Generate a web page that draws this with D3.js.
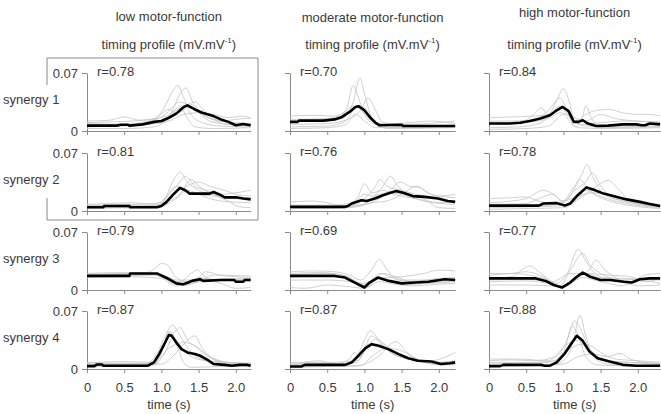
<!DOCTYPE html>
<html><head><meta charset="utf-8">
<script src="https://cdn.jsdelivr.net/npm/d3@7"></script>
<style>
html,body{margin:0;padding:0;background:#fff;}
text{font-family:"Liberation Sans",Arial,sans-serif;fill:#3a3a3a;}
</style></head>
<body><svg id="chart" width="661" height="414"></svg>
<script>
// ---------- labels ----------
const groups = ["low motor-function","moderate motor-function","high motor-function"];
const synergies = ["synergy 1","synergy 2","synergy 3","synergy 4"];
const xTicks = [0,0.5,1.0,1.5,2.0];
const xTickLabels = ["0","0.5","1.0","1.5","2.0"];
const yTicks = [0,0.07];
const yTickLabels = ["0","0.07"];
const tEnd = [2.2,2.22,2.3];
const rValues = [["0.78","0.81","0.79","0.87"],["0.70","0.76","0.69","0.87"],["0.84","0.78","0.77","0.88"]];

// ---------- mean profiles ([time s, mV/mV]) ----------
const low_s1_mean=[[0,0.0065],[0.4,0.0065],[0.45,0.0075],[0.55,0.0075],[0.57,0.0065],[0.75,0.008],[0.9,0.011],[1.0,0.012],[1.1,0.016],[1.2,0.021],[1.3,0.029],[1.35,0.031],[1.45,0.026],[1.55,0.022],[1.7,0.018],[1.8,0.014],[1.9,0.011],[2.0,0.007],[2.1,0.0085],[2.2,0.007]];
const low_s2_mean=[[0,0.0045],[0.22,0.0045],[0.23,0.006],[0.57,0.006],[0.58,0.0045],[0.94,0.0045],[1.0,0.006],[1.07,0.011],[1.16,0.02],[1.25,0.028],[1.32,0.025],[1.38,0.021],[1.5,0.021],[1.65,0.021],[1.7,0.023],[1.78,0.02],[1.85,0.0165],[2.0,0.0165],[2.1,0.015],[2.2,0.014]];
const low_s3_mean=[[0,0.017],[0.57,0.017],[0.58,0.02],[0.94,0.02],[1.07,0.0145],[1.2,0.008],[1.29,0.007],[1.36,0.009],[1.41,0.011],[1.52,0.013],[1.56,0.011],[1.8,0.012],[1.98,0.012],[2.0,0.01],[2.1,0.01],[2.12,0.012],[2.2,0.012]];
const low_s4_mean=[[0,0.0035],[0.1,0.0035],[0.13,0.0055],[0.2,0.0055],[0.22,0.004],[0.82,0.004],[0.9,0.008],[0.97,0.018],[1.05,0.032],[1.1,0.041],[1.14,0.04],[1.2,0.032],[1.27,0.024],[1.35,0.02],[1.45,0.018],[1.52,0.016],[1.62,0.011],[1.7,0.006],[1.85,0.005],[1.95,0.004],[2.05,0.005],[2.15,0.005],[2.2,0.004]];
const mod_s1_mean=[[0,0.011],[0.1,0.011],[0.12,0.0125],[0.45,0.0125],[0.6,0.014],[0.7,0.017],[0.8,0.023],[0.88,0.029],[0.92,0.030],[1.0,0.025],[1.08,0.016],[1.15,0.01],[1.2,0.007],[1.5,0.0075],[1.52,0.006],[2.22,0.006]];
const mod_s2_mean=[[0,0.005],[0.74,0.005],[0.78,0.006],[0.83,0.009],[0.96,0.013],[1.03,0.012],[1.14,0.015],[1.25,0.019],[1.35,0.022],[1.43,0.024],[1.52,0.022],[1.65,0.018],[1.81,0.017],[1.99,0.015],[2.12,0.012],[2.22,0.011]];
const mod_s3_mean=[[0,0.017],[0.6,0.017],[0.74,0.015],[0.87,0.009],[1.0,0.003],[1.07,0.009],[1.18,0.015],[1.33,0.011],[1.5,0.008],[1.68,0.009],[1.86,0.01],[2.08,0.013],[2.22,0.012]];
const mod_s4_mean=[[0,0.003],[0.15,0.003],[0.2,0.005],[0.74,0.005],[0.83,0.008],[0.92,0.016],[1.01,0.025],[1.1,0.03],[1.19,0.028],[1.32,0.024],[1.46,0.018],[1.59,0.013],[1.72,0.01],[1.9,0.009],[2.03,0.006],[2.15,0.007],[2.22,0.008]];
const high_s1_mean=[[0,0.009],[0.28,0.009],[0.42,0.01],[0.55,0.012],[0.69,0.015],[0.82,0.019],[0.91,0.025],[0.99,0.029],[1.07,0.024],[1.14,0.011],[1.2,0.011],[1.26,0.013],[1.33,0.009],[1.44,0.006],[1.6,0.0065],[1.8,0.008],[1.98,0.008],[2.05,0.007],[2.1,0.007],[2.16,0.009],[2.3,0.008]];
const high_s2_mean=[[0,0.0065],[0.67,0.0065],[0.73,0.009],[0.91,0.0095],[1.02,0.0065],[1.09,0.009],[1.18,0.018],[1.31,0.0285],[1.4,0.026],[1.54,0.021],[1.67,0.018],[1.85,0.014],[2.03,0.011],[2.16,0.0085],[2.3,0.006]];
const high_s3_mean=[[0,0.014],[0.63,0.014],[0.76,0.011],[0.87,0.006],[0.98,0.003],[1.09,0.009],[1.18,0.016],[1.26,0.021],[1.36,0.016],[1.5,0.012],[1.63,0.012],[1.81,0.01],[1.92,0.009],[2.03,0.013],[2.16,0.014],[2.3,0.014]];
const high_s4_mean=[[0,0.0035],[0.15,0.0035],[0.19,0.005],[0.7,0.005],[0.75,0.004],[0.82,0.004],[0.91,0.008],[1.02,0.019],[1.11,0.031],[1.18,0.04],[1.26,0.034],[1.35,0.021],[1.46,0.013],[1.62,0.009],[1.8,0.005],[1.98,0.004],[2.3,0.004]];

// ---------- individual profiles ----------
const low_s1_ind=[
[[0,0.010],[0.3,0.011],[0.6,0.012],[0.9,0.015],[1.05,0.03],[1.15,0.048],[1.22,0.055],[1.3,0.04],[1.4,0.02],[1.55,0.01],[1.8,0.006],[2.2,0.005]],
[[0,0.005],[0.4,0.006],[0.8,0.008],[1.0,0.01],[1.15,0.025],[1.25,0.045],[1.33,0.052],[1.42,0.035],[1.55,0.02],[1.7,0.014],[2.0,0.01],[2.2,0.009]],
[[0,0.012],[0.3,0.013],[0.5,0.017],[0.7,0.013],[1.0,0.016],[1.2,0.025],[1.35,0.032],[1.45,0.035],[1.6,0.022],[1.8,0.012],[2.0,0.014],[2.2,0.016]],
[[0,0.008],[0.5,0.008],[0.9,0.014],[1.1,0.026],[1.2,0.022],[1.3,0.025],[1.4,0.032],[1.5,0.022],[1.65,0.012],[1.9,0.008],[2.2,0.006]],
[[0,0.003],[0.5,0.003],[0.9,0.005],[1.1,0.015],[1.25,0.03],[1.35,0.015],[1.45,0.005],[1.7,0.003],[2.2,0.004]],
[[0,0.006],[0.5,0.007],[0.9,0.009],[1.1,0.012],[1.3,0.02],[1.5,0.022],[1.7,0.02],[1.9,0.016],[2.1,0.018],[2.2,0.015]],
[[0,0.009],[0.4,0.008],[0.8,0.01],[1.05,0.02],[1.25,0.035],[1.4,0.028],[1.6,0.018],[1.9,0.008],[2.2,0.008]]];
const low_s2_ind=[
[[0,0.003],[0.5,0.004],[0.9,0.004],[1.05,0.015],[1.18,0.04],[1.25,0.047],[1.35,0.035],[1.5,0.025],[1.7,0.02],[1.9,0.016],[2.2,0.014]],
[[0,0.008],[0.3,0.009],[0.6,0.01],[0.9,0.008],[1.1,0.02],[1.25,0.035],[1.32,0.042],[1.45,0.03],[1.6,0.025],[1.8,0.02],[2.0,0.022],[2.2,0.025]],
[[0,0.005],[0.4,0.006],[0.8,0.006],[1.1,0.012],[1.25,0.02],[1.4,0.038],[1.5,0.03],[1.7,0.02],[1.9,0.012],[2.05,0.005],[2.2,0.004]],
[[0,0.006],[0.5,0.007],[1.0,0.007],[1.15,0.02],[1.3,0.028],[1.5,0.035],[1.65,0.03],[1.85,0.025],[2.0,0.02],[2.2,0.018]],
[[0,0.004],[0.5,0.004],[1.0,0.006],[1.2,0.015],[1.35,0.025],[1.55,0.018],[1.8,0.012],[2.2,0.01]],
[[0,0.007],[0.6,0.008],[1.0,0.01],[1.2,0.03],[1.3,0.025],[1.5,0.02],[1.7,0.018],[2.0,0.015],[2.2,0.016]]];
const low_s3_ind=[
[[0,0.018],[0.5,0.019],[0.8,0.021],[0.9,0.025],[1.0,0.032],[1.08,0.03],[1.2,0.015],[1.35,0.01],[1.6,0.012],[2.2,0.014]],
[[0,0.016],[0.5,0.017],[0.9,0.018],[1.1,0.012],[1.25,0.01],[1.4,0.02],[1.48,0.024],[1.6,0.015],[1.8,0.012],[2.2,0.013]],
[[0,0.02],[0.5,0.021],[0.9,0.02],[1.1,0.015],[1.3,0.006],[1.5,0.01],[1.7,0.018],[2.0,0.016],[2.2,0.015]],
[[0,0.015],[0.6,0.016],[1.0,0.014],[1.2,0.005],[1.4,0.008],[1.6,0.011],[1.8,0.008],[2.0,0.002],[2.2,0.003]],
[[0,0.017],[0.5,0.018],[0.95,0.019],[1.15,0.008],[1.3,0.005],[1.5,0.015],[1.7,0.012],[2.2,0.011]],
[[0,0.019],[0.6,0.02],[1.0,0.018],[1.2,0.012],[1.45,0.012],[1.6,0.022],[1.8,0.018],[2.2,0.017]]];
const low_s4_ind=[
[[0,0.008],[0.4,0.007],[0.8,0.007],[0.95,0.02],[1.05,0.04],[1.15,0.053],[1.25,0.04],[1.4,0.02],[1.6,0.01],[2.0,0.006],[2.2,0.005]],
[[0,0.005],[0.5,0.006],[0.9,0.006],[1.05,0.02],[1.15,0.04],[1.25,0.05],[1.35,0.035],[1.5,0.025],[1.65,0.015],[1.9,0.008],[2.2,0.006]],
[[0,0.003],[0.5,0.004],[0.9,0.005],[1.0,0.02],[1.1,0.045],[1.2,0.03],[1.3,0.008],[1.4,0.002],[1.8,0.003],[2.2,0.004]],
[[0,0.006],[0.6,0.006],[0.9,0.008],[1.1,0.025],[1.3,0.032],[1.45,0.028],[1.55,0.02],[1.75,0.01],[2.2,0.006]],
[[0,0.004],[0.5,0.005],[1.0,0.006],[1.15,0.015],[1.3,0.03],[1.45,0.04],[1.55,0.025],[1.7,0.012],[1.9,0.005],[2.2,0.005]],
[[0,0.007],[0.5,0.009],[0.9,0.008],[1.05,0.03],[1.12,0.045],[1.2,0.035],[1.35,0.018],[1.6,0.01],[2.2,0.007]]];
const mod_s1_ind=[
[[0,0.018],[0.3,0.019],[0.6,0.018],[0.75,0.025],[0.85,0.055],[0.92,0.04],[1.0,0.02],[1.15,0.008],[1.5,0.006],[2.22,0.007]],
[[0,0.012],[0.4,0.012],[0.7,0.015],[0.85,0.035],[0.94,0.064],[1.0,0.045],[1.1,0.015],[1.2,0.005],[1.6,0.004],[2.22,0.005]],
[[0,0.008],[0.5,0.009],[0.8,0.015],[0.95,0.025],[1.05,0.04],[1.15,0.025],[1.25,0.01],[1.6,0.008],[2.0,0.01],[2.22,0.012]],
[[0,0.005],[0.5,0.006],[0.75,0.012],[0.9,0.03],[1.0,0.028],[1.15,0.01],[1.3,0.003],[2.22,0.004]],
[[0,0.014],[0.5,0.015],[0.7,0.02],[0.85,0.03],[1.0,0.022],[1.1,0.012],[1.3,0.008],[1.6,0.01],[1.9,0.012],[2.22,0.009]],
[[0,0.003],[0.5,0.004],[0.75,0.008],[0.88,0.02],[1.0,0.012],[1.15,0.004],[1.5,0.005],[2.22,0.006]]];
const mod_s2_ind=[
[[0,0.011],[0.3,0.012],[0.5,0.01],[0.7,0.006],[0.9,0.015],[1.0,0.033],[1.1,0.022],[1.25,0.025],[1.4,0.02],[1.7,0.015],[2.0,0.01],[2.22,0.012]],
[[0,0.005],[0.5,0.005],[0.8,0.006],[1.0,0.015],[1.15,0.03],[1.21,0.038],[1.3,0.03],[1.5,0.025],[1.7,0.02],[2.0,0.015],[2.22,0.01]],
[[0,0.004],[0.5,0.004],[0.9,0.006],[1.1,0.015],[1.25,0.03],[1.35,0.042],[1.45,0.03],[1.6,0.02],[1.8,0.015],[2.0,0.004],[2.22,0.003]],
[[0,0.006],[0.6,0.006],[1.0,0.008],[1.2,0.015],[1.35,0.025],[1.48,0.035],[1.6,0.03],[1.75,0.028],[1.9,0.02],[2.22,0.016]],
[[0,0.003],[0.5,0.003],[0.9,0.005],[1.1,0.01],[1.3,0.012],[1.5,0.02],[1.7,0.03],[1.85,0.022],[2.0,0.018],[2.22,0.02]],
[[0,0.007],[0.5,0.007],[0.85,0.01],[1.0,0.02],[1.1,0.018],[1.3,0.022],[1.5,0.02],[1.8,0.012],[2.22,0.008]]];
const mod_s3_ind=[
[[0,0.022],[0.3,0.023],[0.6,0.022],[0.8,0.018],[0.95,0.012],[1.1,0.025],[1.2,0.037],[1.3,0.025],[1.45,0.012],[1.8,0.012],[2.22,0.014]],
[[0,0.02],[0.4,0.021],[0.7,0.018],[0.9,0.01],[1.0,0.005],[1.15,0.012],[1.3,0.015],[1.5,0.016],[1.8,0.02],[2.0,0.024],[2.22,0.023]],
[[0,0.003],[0.2,0.002],[0.5,0.006],[0.8,0.004],[1.0,0.002],[1.2,0.01],[1.5,0.006],[1.8,0.008],[2.22,0.01]],
[[0,0.015],[0.5,0.017],[0.8,0.014],[1.0,0.006],[1.15,0.015],[1.3,0.012],[1.6,0.005],[2.0,0.007],[2.22,0.008]],
[[0,0.012],[0.5,0.012],[0.9,0.009],[1.05,0.004],[1.2,0.02],[1.35,0.016],[1.6,0.01],[2.0,0.014],[2.22,0.015]],
[[0,0.018],[0.5,0.02],[0.75,0.017],[0.95,0.008],[1.1,0.01],[1.25,0.02],[1.45,0.015],[1.7,0.008],[2.22,0.011]]];
const mod_s4_ind=[
[[0,0.006],[0.3,0.007],[0.7,0.006],[0.9,0.015],[1.0,0.035],[1.08,0.046],[1.2,0.035],[1.4,0.02],[1.7,0.01],[2.0,0.006],[2.22,0.007]],
[[0,0.004],[0.4,0.01],[0.6,0.006],[0.8,0.012],[0.86,0.02],[0.95,0.015],[1.05,0.03],[1.2,0.03],[1.35,0.02],[1.6,0.012],[2.0,0.008],[2.22,0.009]],
[[0,0.003],[0.5,0.004],[0.9,0.004],[1.1,0.01],[1.25,0.02],[1.35,0.03],[1.43,0.033],[1.55,0.022],[1.75,0.01],[2.0,0.005],[2.22,0.005]],
[[0,0.005],[0.5,0.005],[0.9,0.008],[1.0,0.025],[1.1,0.04],[1.2,0.033],[1.35,0.02],[1.6,0.012],[1.9,0.01],[2.1,0.015],[2.22,0.02]],
[[0,0.002],[0.5,0.003],[0.95,0.004],[1.1,0.015],[1.3,0.025],[1.5,0.022],[1.7,0.012],[2.0,0.008],[2.22,0.01]],
[[0,0.008],[0.5,0.008],[0.9,0.01],[1.05,0.028],[1.15,0.036],[1.3,0.028],[1.5,0.015],[1.8,0.01],[2.22,0.006]]];
const high_s1_ind=[
[[0,0.016],[0.3,0.017],[0.6,0.018],[0.8,0.02],[0.9,0.035],[1.0,0.051],[1.08,0.035],[1.15,0.012],[1.3,0.006],[1.6,0.005],[2.3,0.006]],
[[0,0.012],[0.3,0.012],[0.6,0.014],[0.8,0.025],[0.95,0.04],[1.05,0.025],[1.15,0.005],[1.25,0.015],[1.3,0.03],[1.38,0.015],[1.5,0.004],[2.3,0.005]],
[[0,0.004],[0.4,0.005],[0.7,0.01],[0.85,0.022],[0.95,0.03],[1.05,0.02],[1.15,0.012],[1.3,0.02],[1.45,0.025],[1.62,0.026],[1.8,0.022],[2.0,0.02],[2.16,0.02],[2.3,0.018]],
[[0,0.008],[0.4,0.009],[0.6,0.02],[0.7,0.028],[0.8,0.02],[1.0,0.03],[1.1,0.015],[1.25,0.008],[1.5,0.01],[1.8,0.012],[2.3,0.011]],
[[0,0.002],[0.5,0.003],[0.8,0.006],[1.0,0.02],[1.1,0.01],[1.2,0.004],[1.6,0.003],[2.3,0.004]],
[[0,0.01],[0.5,0.011],[0.8,0.015],[0.95,0.022],[1.1,0.018],[1.3,0.012],[1.5,0.02],[1.7,0.015],[2.0,0.012],[2.3,0.01]]];
const high_s2_ind=[
[[0,0.015],[0.3,0.016],[0.5,0.017],[0.6,0.014],[0.9,0.008],[1.1,0.02],[1.25,0.045],[1.32,0.056],[1.4,0.04],[1.55,0.02],[1.8,0.012],[2.3,0.005]],
[[0,0.01],[0.3,0.012],[0.5,0.015],[0.73,0.025],[0.9,0.018],[1.0,0.01],[1.15,0.025],[1.3,0.035],[1.39,0.046],[1.5,0.03],[1.7,0.015],[2.3,0.006]],
[[0,0.006],[0.5,0.006],[0.8,0.007],[1.0,0.012],[1.15,0.03],[1.22,0.038],[1.35,0.025],[1.5,0.018],[1.8,0.01],[2.3,0.004]],
[[0,0.004],[0.5,0.005],[0.9,0.006],[1.1,0.01],[1.3,0.02],[1.45,0.03],[1.6,0.037],[1.75,0.025],[1.9,0.012],[2.3,0.005]],
[[0,0.008],[0.5,0.009],[0.7,0.016],[0.85,0.02],[1.0,0.012],[1.2,0.018],[1.4,0.022],[1.6,0.02],[1.9,0.012],[2.3,0.008]],
[[0,0.002],[0.5,0.003],[1.0,0.004],[1.2,0.015],[1.3,0.025],[1.45,0.018],[1.7,0.01],[2.3,0.003]]];
const high_s3_ind=[
[[0,0.014],[0.3,0.016],[0.55,0.029],[0.7,0.02],[0.9,0.008],[1.05,0.02],[1.2,0.049],[1.3,0.035],[1.45,0.018],[1.7,0.012],[2.3,0.015]],
[[0,0.018],[0.3,0.02],[0.5,0.022],[0.75,0.015],[0.95,0.005],[1.1,0.025],[1.26,0.044],[1.36,0.03],[1.5,0.02],[1.8,0.01],[2.0,0.005],[2.3,0.006]],
[[0,0.01],[0.5,0.011],[0.8,0.008],[1.0,0.004],[1.2,0.015],[1.35,0.025],[1.44,0.036],[1.55,0.025],[1.7,0.015],[1.9,0.01],[2.1,0.018],[2.3,0.02]],
[[0,0.02],[0.3,0.02],[0.6,0.017],[0.85,0.01],[1.0,0.003],[1.15,0.012],[1.3,0.02],[1.5,0.015],[1.8,0.014],[2.3,0.012]],
[[0,0.006],[0.5,0.006],[0.9,0.005],[1.1,0.008],[1.25,0.015],[1.5,0.01],[1.8,0.005],[2.0,0.012],[2.3,0.008]],
[[0,0.012],[0.5,0.013],[0.85,0.01],[1.1,0.02],[1.3,0.02],[1.6,0.018],[1.9,0.016],[2.1,0.01],[2.3,0.014]]];
const high_s4_ind=[
[[0,0.01],[0.3,0.011],[0.6,0.01],[0.9,0.015],[1.05,0.035],[1.15,0.058],[1.22,0.05],[1.35,0.025],[1.6,0.01],[2.3,0.006]],
[[0,0.006],[0.4,0.007],[0.8,0.008],[1.0,0.02],[1.12,0.052],[1.2,0.04],[1.3,0.015],[1.45,0.005],[1.8,0.004],[2.3,0.005]],
[[0,0.004],[0.5,0.005],[0.9,0.006],[1.05,0.015],[1.15,0.04],[1.22,0.065],[1.3,0.04],[1.4,0.015],[1.6,0.006],[2.3,0.004]],
[[0,0.008],[0.5,0.008],[0.9,0.01],[1.1,0.025],[1.25,0.03],[1.39,0.027],[1.5,0.02],[1.7,0.012],[2.0,0.01],[2.3,0.008]],
[[0,0.003],[0.5,0.004],[1.0,0.006],[1.2,0.015],[1.4,0.018],[1.6,0.015],[1.76,0.019],[1.9,0.012],[2.1,0.008],[2.3,0.006]],
[[0,0.012],[0.4,0.012],[0.8,0.01],[1.05,0.03],[1.2,0.035],[1.35,0.02],[1.55,0.01],[2.3,0.007]]];

const means = [[low_s1_mean,low_s2_mean,low_s3_mean,low_s4_mean],[mod_s1_mean,mod_s2_mean,mod_s3_mean,mod_s4_mean],[high_s1_mean,high_s2_mean,high_s3_mean,high_s4_mean]];
const inds = [[low_s1_ind,low_s2_ind,low_s3_ind,low_s4_ind],[mod_s1_ind,mod_s2_ind,mod_s3_ind,mod_s4_ind],[high_s1_ind,high_s2_ind,high_s3_ind,high_s4_ind]];

// ---------- layout ----------
const svg = d3.select("#chart");
const colX = [87,290,489];
const pxPerSec = 74.4;
const rowTop = [73,153,232,311];
const rowH = 58;
const axisColor = "#8a8a8a";
const fs = 13;

// titles
const titleY1=[18,19,14], titleY2=[46,46,46];
groups.forEach((g,c)=>{
  const cx = colX[c] + tEnd[c]*pxPerSec/2;
  svg.append("text").attr("x",cx).attr("y",titleY1[c]).attr("text-anchor","middle")
     .attr("dominant-baseline","middle").attr("font-size",fs).text(g);
  const t = svg.append("text").attr("x",cx).attr("y",titleY2[c]).attr("text-anchor","middle")
     .attr("dominant-baseline","middle").attr("font-size",fs);
  t.append("tspan").text("timing profile (mV.mV");
  t.append("tspan").attr("font-size",8).attr("dy",-5).text("-1");
  t.append("tspan").attr("dy",5).text(")");
});

// box around low column synergies 1-2
const box = {x0:47,y0:58,x1:258,y1:220};
const boxG = svg.append("g").attr("stroke",axisColor).attr("stroke-width",1).attr("fill","none");
boxG.append("path").attr("d",`M${box.x0},85 V${box.y0} H${box.x1} V${box.y1} H${box.x0} V198`);

const yLab = ["0","0.07"];
for(let c=0;c<3;c++){
  const x = d3.scaleLinear().domain([0,tEnd[c]]).range([colX[c], colX[c]+tEnd[c]*pxPerSec]);
  for(let r=0;r<4;r++){
    const y = d3.scaleLinear().domain([0,0.07]).range([rowTop[r]+rowH, rowTop[r]]);
    const g = svg.append("g");
    const clipId = `clip${c}${r}`;
    svg.append("clipPath").attr("id",clipId).append("rect")
      .attr("x",x.range()[0]).attr("y",rowTop[r]-8).attr("width",x.range()[1]-x.range()[0]+1).attr("height",rowH+8);
    // x axis
    const xa = d3.axisBottom(x).tickValues(xTicks).tickSize(4).tickSizeOuter(0)
      .tickFormat((d,i)=> r===3 ? xTickLabels[i] : "");
    const gx = g.append("g").attr("transform",`translate(0,${y(0)})`).call(xa);
    // y axis
    const ya = d3.axisLeft(y).tickValues(yTicks).tickSize(5).tickSizeOuter(0)
      .tickFormat((d,i)=> c===0 ? yTickLabels[i] : "");
    const gy = g.append("g").attr("transform",`translate(${x(0)},0)`).call(ya);
    [gx,gy].forEach(a=>{
      a.selectAll("path,line").attr("stroke",axisColor);
      a.selectAll("text").attr("font-size",fs).attr("fill","#3a3a3a")
        .attr("font-family",'"Liberation Sans",Arial,sans-serif');
    });
    gx.selectAll("text").attr("dy","1.25em");
    gy.selectAll("text").attr("dx","-1px");
    // lines
    const lg = g.append("g").attr("clip-path",`url(#${clipId})`);
    const indLine = d3.line().x(d=>x(d[0])).y(d=>y(d[1])).curve(d3.curveMonotoneX);
    inds[c][r].forEach(series=>{
      lg.append("path").attr("d",indLine(series)).attr("fill","none")
        .attr("stroke","#c4c4c4").attr("stroke-width",0.8);
    });
    const meanLine = d3.line().x(d=>x(d[0])).y(d=>y(d[1]));
    lg.append("path").attr("d",meanLine(means[c][r])).attr("fill","none")
      .attr("stroke","#000").attr("stroke-width",2.6).attr("stroke-linejoin","round");
    // r label
    svg.append("text").attr("x",x(0)+10).attr("y",rowTop[r]).attr("dominant-baseline","middle")
      .attr("font-size",fs).text("r="+rValues[c][r]);
    // synergy labels
    if(c===0){
      svg.append("text").attr("x",3).attr("y",rowTop[r]+28).attr("dominant-baseline","middle")
        .attr("font-size",fs).text(synergies[r]);
    }
  }
  // x axis title
  svg.append("text").attr("x",colX[c]+tEnd[c]*pxPerSec/2).attr("y",406).attr("text-anchor","middle")
    .attr("dominant-baseline","middle").attr("font-size",fs).text("time (s)");
}
</script></body></html>
